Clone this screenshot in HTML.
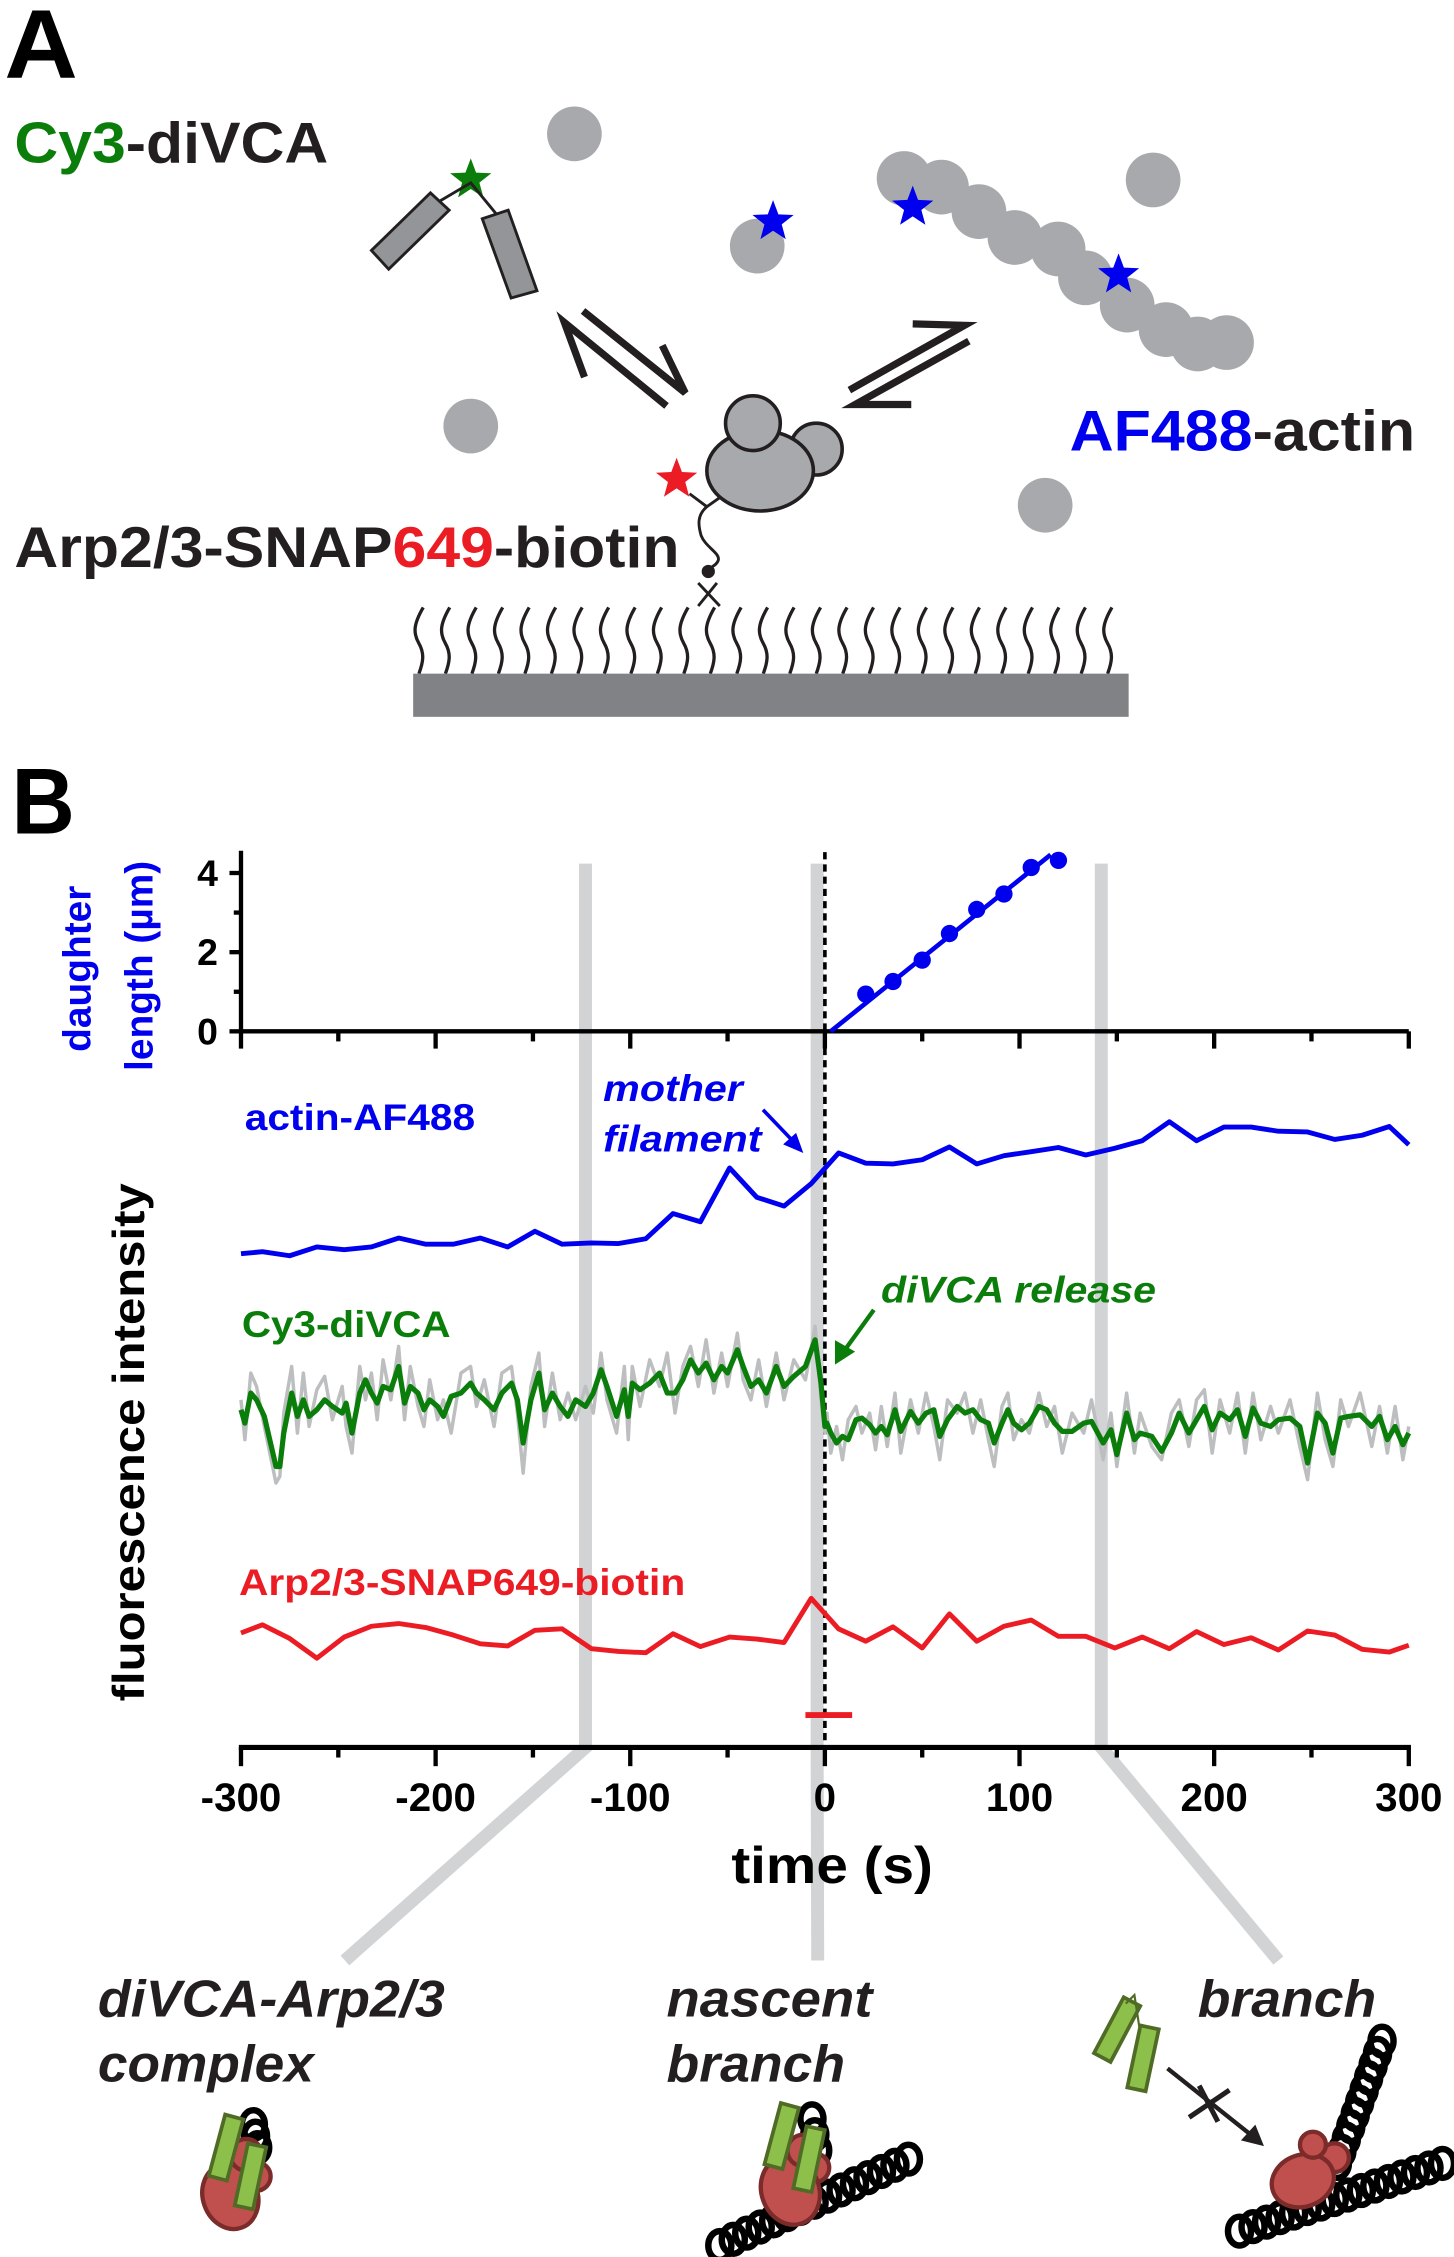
<!DOCTYPE html>
<html><head><meta charset="utf-8"><style>
html,body{margin:0;padding:0;background:#fff}
svg{display:block}
text{font-family:"Liberation Sans",Arial,sans-serif;font-weight:bold}
</style></head><body>
<svg id="fig" xmlns="http://www.w3.org/2000/svg" width="1454" height="2257" viewBox="0 0 1010 1568" preserveAspectRatio="none">
<g id="panelA">
  <text x="3" y="54" font-size="68" textLength="51" lengthAdjust="spacingAndGlyphs">A</text>
  <text x="10" y="113" font-size="40" textLength="218" lengthAdjust="spacingAndGlyphs"><tspan fill="#0b7d0b">Cy3</tspan><tspan fill="#231f20">-diVCA</tspan></text>
  <text x="743" y="313" font-size="40" textLength="240" lengthAdjust="spacingAndGlyphs"><tspan fill="#0000ee">AF488</tspan><tspan fill="#231f20">-actin</tspan></text>
  <text x="10" y="394" font-size="40" textLength="462" lengthAdjust="spacingAndGlyphs"><tspan fill="#231f20">Arp2/3-SNAP</tspan><tspan fill="#ec1c24">649</tspan><tspan fill="#231f20">-biotin</tspan></text>
  <g fill="#a7a9ac">
    <circle cx="399" cy="93" r="19"/><circle cx="526" cy="171" r="19"/><circle cx="801" cy="125" r="19"/><circle cx="327" cy="296" r="19"/><circle cx="726" cy="351" r="19"/>
  </g>
  <g fill="#a7a9ac">
    <circle cx="628" cy="124" r="19"/><circle cx="654" cy="130" r="19"/><circle cx="680" cy="147" r="19"/><circle cx="705" cy="165" r="19"/><circle cx="735" cy="173" r="19"/><circle cx="754" cy="193" r="19"/><circle cx="783" cy="212" r="19"/><circle cx="810" cy="229" r="19"/><circle cx="832" cy="239" r="19"/><circle cx="852" cy="238" r="19"/>
  </g>
  <g id="starsA"></g>
  <g stroke="#231f20" stroke-width="2" fill="#939598">
    <polygon points="258,174 299,134 312,146 270,187"/>
    <polygon points="335,152 353,146 373,202 355,207"/>
    <polyline points="305,140 327,127 345,149" fill="none"/>
  </g>
  <g stroke="#231f20" stroke-width="5" fill="none">
    <polyline points="406,262 392,224 463,282"/>
    <polyline points="405,216 476,273 460,240"/>
  </g>
  <g stroke="#231f20" stroke-width="5" fill="none">
    <polyline points="634,225 670,226 590,271"/>
    <polyline points="673,237 594,281 633,281"/>
  </g>
  <g stroke="#231f20" stroke-width="2.5" fill="#a7a9ac">
    <circle cx="567" cy="312" r="18"/>
    <ellipse cx="528" cy="327" rx="37" ry="28"/>
    <circle cx="523" cy="294" r="19"/>
  </g>
  <g stroke="#231f20" stroke-width="2" fill="none">
    <path d="M479,343 L491,352 L501,345"/>
    <path d="M491,352 C484,358 485,365 487,372 C490,380 500,384 499,389 C498,393 493,394 492,396"/>
    <path d="M485,405 L500,421 M498,405 L485,421"/>
  </g>
  <circle cx="492" cy="397" r="4.6" fill="#231f20"/>
  <g id="squiggles" stroke="#231f20" stroke-width="2.3" fill="none"></g>
  <rect x="287" y="468" width="497" height="30" fill="#808285"/>
</g>

<g id="panelB">
  <text x="8" y="579" font-size="65" textLength="44" lengthAdjust="spacingAndGlyphs">B</text>
  <g id="bands"></g>
  <g id="chart"></g>
</g>

<g id="cartoons">
  <text x="68" y="1401" font-size="36" font-style="italic" textLength="241" lengthAdjust="spacingAndGlyphs" fill="#231f20">diVCA-Arp2/3</text>
  <text x="68" y="1446" font-size="36" font-style="italic" textLength="150" lengthAdjust="spacingAndGlyphs" fill="#231f20">complex</text>
  <text x="463" y="1401" font-size="36" font-style="italic" textLength="143" lengthAdjust="spacingAndGlyphs" fill="#231f20">nascent</text>
  <text x="463" y="1446" font-size="36" font-style="italic" textLength="124" lengthAdjust="spacingAndGlyphs" fill="#231f20">branch</text>
  <text x="832" y="1401" font-size="36" font-style="italic" textLength="124" lengthAdjust="spacingAndGlyphs" fill="#231f20">branch</text>
  <g id="cart"></g>
</g>
</svg>
<script>
// ---------- chart data ----------
const xTickLabels = ["-300","-200","-100","0","100","200","300"];
const xTickValues = [-300,-200,-100,0,100,200,300];
const lenTickValues = [0,2,4];
const lenTickLabels = ["0","2","4"];
const daughterT = [21,35,50,64,78,92,106,120];
const daughterL = [0.94,1.26,1.80,2.47,3.08,3.47,4.14,4.32];
const fitRange = [3,116];
const fitSlope = [0.0395];
const traceT = [-300,-289,-275,-261,-247,-233,-219,-205,-191,-177,-163,-149,-135,-120,-106,-92,-78,-64,-49,-35,-21,-7,7,21,35,50,64,78,92,106,120,134,149,163,177,191,205,219,233,248,262,276,290,300];
const actinV = [72.3,72.6,72.0,73.3,72.9,73.3,74.6,73.7,73.7,74.6,73.3,75.6,73.7,73.9,73.8,74.5,78.2,77.0,84.9,80.6,79.3,82.6,87.1,85.6,85.5,86.1,88.0,85.5,86.7,87.3,87.9,86.8,87.8,88.9,91.7,88.9,90.9,90.9,90.3,90.2,89.1,89.7,91.0,88.3];
const arpV = [16.6,17.8,15.8,12.9,16.0,17.6,18.0,17.4,16.3,15.0,14.7,17.0,17.2,14.3,13.9,13.7,16.5,14.6,16.0,15.7,15.2,21.7,17.2,15.4,17.5,14.4,19.4,15.4,17.6,18.5,16.1,16.1,14.4,16.0,14.3,16.8,14.9,15.9,14.1,16.9,16.3,14.2,13.8,14.8];
const greenT = [-300,-298,-295,-292,-288,-282,-280,-278,-274,-271,-268,-265,-261,-257,-253,-248,-246,-243,-239,-236,-233,-230,-227,-223,-219,-216,-213,-209,-206,-203,-199,-196,-192,-187,-182,-179,-175,-170,-166,-161,-158,-155,-151,-147,-144,-140,-136,-132,-128,-123,-119,-115,-112,-107,-103,-101,-99,-95,-90,-85,-81,-77,-73,-69,-65,-61,-57,-53,-50,-45,-42,-38,-34,-30,-25,-21,-16,-10,-5,-2,0,
 1,3,6,9,12,16,19,23,26,29,32,36,39,44,48,52,56,59,63,68,72,76,80,84,87,91,94,97,101,105,110,114,118,122,127,133,137,143,147,150,155,159,162,168,173,178,182,187,191,195,199,203,208,212,216,220,224,229,233,239,244,248,253,257,261,265,269,275,281,285,289,293,297,300];
const greenV = [27,23,32,30,25,10,10,20,32,25,30,25,27,30,28,26,29,20,32,36,32,29,34,33,40,29,34,32,27,30,28,25,31,32,35,32,30,27,32,35,30,17,30,38,27,32,28,25,30,28,32,39,34,25,33,25,35,33,35,38,32,32,36,42,38,41,36,40,38,45,40,34,36,32,40,34,37,40,48,35,22,
 23,20,17,19,18,24,24.5,22.5,20,22,19.5,27,20.5,26.5,23,26,27,19,24,28,26,27,24,23,17,23,27,23,21,23,28,27,23,20.5,20.5,23,23.5,17,21,13.5,26,18,20,19,14.5,20,26,20,24,28,21,26,24,27,19,27.5,23,22,24,24.5,22,11,26,23,14,24.5,25,25.5,22,25,18,22,16.5,20];
const rawV = [30,18,38,34,22,5,7,26,40,20,38,22,33,37,24,34,22,14,40,30,38,24,42,30,46,24,40,28,22,36,24,30,20,38,40,28,36,22,38,40,26,8,34,44,22,38,24,32,24,34,26,44,30,20,40,18,40,28,42,34,44,26,40,46,34,48,32,44,34,50,36,30,42,28,44,30,42,36,52,30,20,
 26,14,22,12,24,28,20,26,15,28,16,32,14,30,20,32,22,12,30,26,32,20,30,18,10,28,32,18,24,20,32,22,28,14,26,20,30,12,26,10,32,14,26,16,12,26,30,16,30,33,14,30,20,32,14,32,18,28,20,30,16,6,32,18,10,30,22,32,16,28,14,28,12,22];
const bandTimes = [-123,-4,142];
const arpWindow = [-10,14];

// ---------- helpers ----------
const NS = "http://www.w3.org/2000/svg";
function mk(tag, parent, attrs){ const e=document.createElementNS(NS,tag); for(const k in attrs) e.setAttribute(k,attrs[k]); parent.appendChild(e); return e; }
const X0=573, XS=1.352;
function xT(t){ return X0 + t*XS; }
function yL(l){ return 716.5 - l*27.5; }
function yF(v){ return 1213 - v*4.73; }
function yG(g){ return 1041.9 - g*2.315; }
const AX_Y=1214, TOP_Y=716.5, LEFT=xT(-300), RIGHT=xT(300);

// ---------- stars ----------
function starPts(cx,cy,r){ let p=[]; for(let i=0;i<10;i++){ const a=-Math.PI/2+i*Math.PI/5; const rr=i%2?r*0.42:r; p.push((cx+rr*Math.cos(a)).toFixed(1)+","+(cy+rr*Math.sin(a)).toFixed(1)); } return p.join(" "); }
const sA=document.getElementById("starsA");
[[537,154,"#0000ee","blue-star-monomer"],[634,144,"#0000ee","blue-star-filament-1"],[777,191,"#0000ee","blue-star-filament-2"],[327,125,"#0b7d0b","green-star-cy3"],[470,333,"#ec1c24","red-star-649"]].forEach(s=>{
  const e=mk("polygon",sA,{points:starPts(s[0],s[1],15),fill:s[2]});
  
  
});
// squiggles
const sq=document.getElementById("squiggles");
for(let i=0;i<27;i++){
  const x=291+i*18.4;
  const e=mk("path",sq,{d:`M${x+3},422 C${x-4},434 ${x-4},440 ${x},447 C${x+4},454 ${x+3},460 ${x},468`});
  
  
}

// ---------- gray bands ----------
const bands=document.getElementById("bands");
const bandEnds=[239.6,568,888];
bandTimes.forEach((t,i)=>{
  const x=xT(t);
  const e=mk("polyline",bands,{points:`${x},600 ${x},${AX_Y} ${bandEnds[i]},1362`,fill:"none",stroke:"#d1d3d4","stroke-width":9,"stroke-linejoin":"miter"});
  
  
});

// ---------- chart ----------
const g=document.getElementById("chart");
let e=mk("line",g,{x1:LEFT,y1:591,x2:LEFT,y2:TOP_Y,stroke:"#000","stroke-width":3});


e=mk("line",g,{x1:LEFT-1.5,y1:TOP_Y,x2:RIGHT,y2:TOP_Y,stroke:"#000","stroke-width":3});


for(let l=0;l<=4;l++){
  const major=l%2===0;
  e=mk("line",g,{x1:LEFT-(major?8:5),y1:yL(l),x2:LEFT,y2:yL(l),stroke:"#000","stroke-width":3});
  
  
}
lenTickValues.forEach((v,i)=>{
  e=mk("text",g,{x:LEFT-16,y:yL(v)+9,"font-size":26,"text-anchor":"end"});
  e.textContent=lenTickLabels[i];
  
  
});
for(let t=-300;t<=300;t+=50){
  const major=t%100===0;
  e=mk("line",g,{x1:xT(t),y1:TOP_Y,x2:xT(t),y2:TOP_Y+(major?12:7),stroke:"#000","stroke-width":3});
  
  
}
e=mk("text",g,{x:54,y:673,"font-size":27,fill:"#0000ee","text-anchor":"middle",transform:"rotate(-90 54 673)",dy:"9"});
e.textContent="daughter";


e=mk("text",g,{x:97,y:671,"font-size":27,fill:"#0000ee","text-anchor":"middle",transform:"rotate(-90 97 671)",dy:"9"});
e.textContent="length (\u00b5m)";


e=mk("line",g,{x1:xT(fitRange[0]),y1:yL(0),x2:xT(fitRange[1]),y2:yL(fitSlope[0]*(fitRange[1]-fitRange[0])),stroke:"#0000ee","stroke-width":3.2});


daughterT.forEach((t,i)=>{
  const c=mk("circle",g,{cx:xT(t),cy:yL(daughterL[i]),r:6,fill:"#0000ee"});
  
  
});
e=mk("line",g,{x1:xT(0),y1:592,x2:xT(0),y2:AX_Y,stroke:"#000","stroke-width":2.5,"stroke-dasharray":"5 3.5"});


function poly(ts,vs,yf){ return ts.map((t,i)=>xT(t).toFixed(1)+","+yf(vs[i]).toFixed(1)).join(" "); }
e=mk("polyline",g,{points:poly(greenT,rawV,yG),fill:"none",stroke:"#bcbec0","stroke-width":2.4,"stroke-linejoin":"round"});


e=mk("polyline",g,{points:poly(greenT,greenV,yG),fill:"none",stroke:"#0b7d0b","stroke-width":3.6,"stroke-linejoin":"round"});


e=mk("polyline",g,{points:poly(traceT,actinV,yF),fill:"none",stroke:"#0000ee","stroke-width":3.4,"stroke-linejoin":"round"});


e=mk("polyline",g,{points:poly(traceT,arpV,yF),fill:"none",stroke:"#ec1c24","stroke-width":3.4,"stroke-linejoin":"round"});


e=mk("line",g,{x1:xT(arpWindow[0]),y1:1191.5,x2:xT(arpWindow[1]),y2:1191.5,stroke:"#ec1c24","stroke-width":4});


function lab(txt,x,y,fill,len,name,italic){
  const t=mk("text",g,{x:x,y:y,"font-size":26,fill:fill,textLength:len,lengthAdjust:"spacingAndGlyphs"});
  if(italic) t.setAttribute("font-style","italic");
  t.textContent=txt;
  
  
}
lab("actin-AF488",170,785,"#0000ee",160,"actin-trace-label");
lab("Cy3-diVCA",168,929,"#0b7d0b",145,"divca-trace-label");
lab("Arp2/3-SNAP649-biotin",166,1108,"#ec1c24",310,"arp23-trace-label");
lab("mother",419,765,"#0000ee",97,"mother-annotation",true);
lab("filament",419,800,"#0000ee",110,"filament-annotation",true);
lab("diVCA release",612,905,"#0b7d0b",191,"divca-release-annotation",true);
e=mk("path",g,{d:"M530,771 L552,794",stroke:"#0000ee","stroke-width":2.5,fill:"none"});


e=mk("polygon",g,{points:"558,801 544,795 553,787",fill:"#0000ee"});


e=mk("path",g,{d:"M607,910 L586,939",stroke:"#0b7d0b","stroke-width":3,fill:"none"});


e=mk("polygon",g,{points:"580,948 580,931 594,939",fill:"#0b7d0b"});


e=mk("line",g,{x1:LEFT-1.5,y1:AX_Y,x2:RIGHT+1.5,y2:AX_Y,stroke:"#000","stroke-width":3.5});


for(let t=-300;t<=300;t+=50){
  const major=t%100===0;
  e=mk("line",g,{x1:xT(t),y1:AX_Y,x2:xT(t),y2:AX_Y+(major?13:7),stroke:"#000","stroke-width":3});
  
  
}
xTickValues.forEach((v,i)=>{
  e=mk("text",g,{x:xT(v),y:1258,"font-size":28,"text-anchor":"middle"});
  e.textContent=xTickLabels[i];
  
  
});
e=mk("text",g,{x:578,y:1308,"font-size":36,"text-anchor":"middle",textLength:140,lengthAdjust:"spacingAndGlyphs"});
e.textContent="time (s)";


e=mk("text",g,{x:89,y:1002,"font-size":31,"text-anchor":"middle",transform:"rotate(-90 89 1002)",dy:"11",textLength:360,lengthAdjust:"spacingAndGlyphs"});
e.textContent="fluorescence intensity";



// ---------- bottom cartoons ----------
const C=document.getElementById("cart");
function rings(x1,y1,x2,y2,n,name){
  for(let i=0;i<n;i++){
    const f=n>1?i/(n-1):0;
    const r=mk("ellipse",C,{cx:x1+(x2-x1)*f,cy:y1+(y2-y1)*f,rx:8,ry:10,fill:"none",stroke:"#000","stroke-width":4.5});
    
    
  }
}
function redBlob(cx,cy,rx,ry,s1,s2,name){
  const gg=mk("g",C,{fill:"#c0504d",stroke:"#7b2b29","stroke-width":3});
  
  
  mk("circle",gg,{cx:s2[0],cy:s2[1],r:s2[2]});
  mk("ellipse",gg,{cx:cx,cy:cy,rx:rx,ry:ry,transform:`rotate(-20 ${cx} ${cy})`});
  mk("circle",gg,{cx:s1[0],cy:s1[1],r:s1[2]});
}
function greenRect(cx,cy,ang,name){
  const r=mk("rect",C,{x:cx-6.5,y:cy-22,width:13,height:44,fill:"#8dc04a",stroke:"#4f6b25","stroke-width":2.6,transform:`rotate(${ang} ${cx} ${cy})`});
  
  
}
// cartoon 1
rings(176,1476,179,1492,3,"actin-seed-ring");
redBlob(160,1526,19,23,[171,1497,11],[178,1512,10],"arp23-complex-1");
greenRect(157,1492,15,"divca-domain");
greenRect(174,1512,12,"divca-domain");
// cartoon 2
rings(500,1560,631,1500,15,"mother-filament-ring");
rings(564,1472,568,1494,3,"daughter-seed-ring");
redBlob(549,1522,20,24,[558,1494,11],[566,1506,10],"arp23-complex-2");
greenRect(543,1484,15,"divca-domain");
greenRect(562,1500,12,"divca-domain");
// cartoon 3
rings(861,1550,1002,1503,16,"mother-filament-ring");
rings(929,1503,960,1418,11,"daughter-filament-ring");
redBlob(905,1515,22,18,[912,1490,9],[927,1499,10],"arp23-complex-3");
greenRect(776,1410,28,"free-divca-domain");
greenRect(794,1430,12,"free-divca-domain");
e=mk("polyline",C,{points:"782,1392 788,1386 792,1412",fill:"none",stroke:"#4f6b25","stroke-width":1.5});


e=mk("line",C,{x1:811,y1:1437,x2:870,y2:1484,stroke:"#231f20","stroke-width":3});


e=mk("polygon",C,{points:"878,1491 862,1487 872,1476",fill:"#231f20"});


e=mk("path",C,{d:"M826,1471 L854,1452 M833,1449 L846,1474",stroke:"#231f20","stroke-width":3.5,fill:"none"});


</script>
</body></html>
